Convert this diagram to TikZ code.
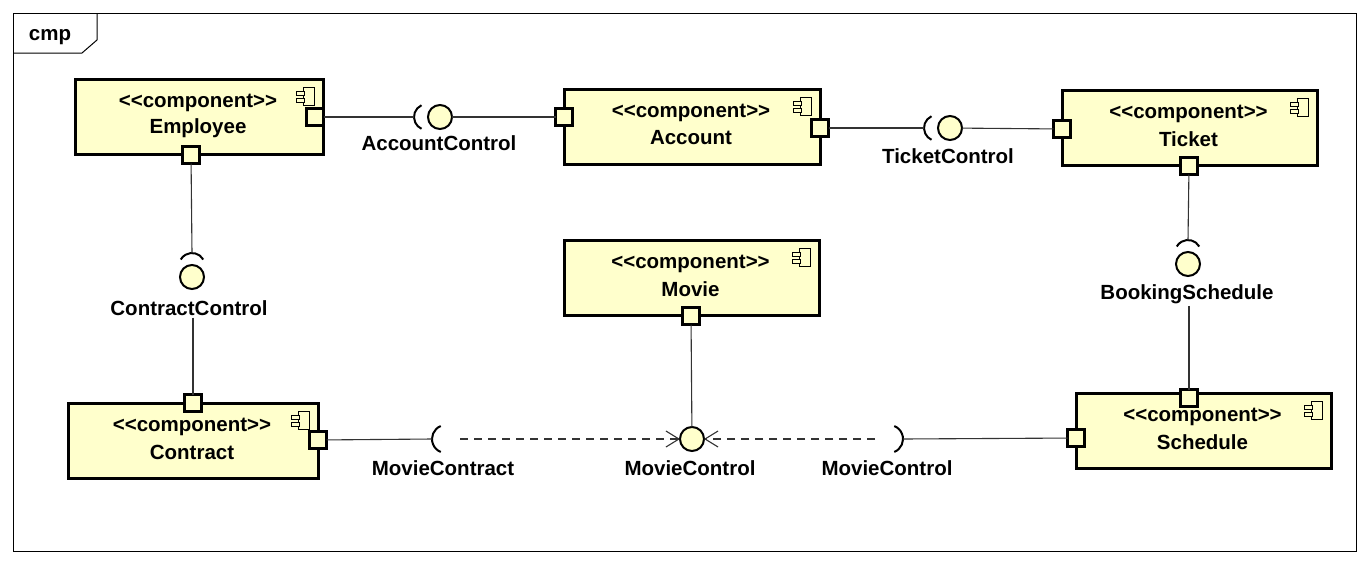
\documentclass[tikz,border=0pt]{standalone}
\usepackage{fontspec}
\setmainfont{Liberation Sans}[Ligatures=TeXOff]
\usetikzlibrary{arrows.meta}
\definecolor{compfill}{HTML}{FFFFCC}
\definecolor{linegray}{HTML}{333333}
\tikzset{
  compbox/.style={draw=black, line width=3pt, fill=compfill, inner sep=0pt, outer sep=0pt, anchor=north west},
  txt/.style={font=\fontsize{20.5}{24}\selectfont\bfseries, inner sep=2pt, text=black},
  port/.style={draw=black, line width=2.8pt, fill=compfill, minimum size=17pt, inner sep=0pt, outer sep=0pt},
  ball/.style={circle, draw=black, line width=2pt, fill=compfill, minimum size=24pt, inner sep=0pt, outer sep=0pt},
  socket/.style={draw=black, line width=2pt},
  conn/.style={draw=linegray, line width=1.1pt},
  depend/.style={conn, dash pattern=on 8pt off 6pt, -{Straight Barb[length=13pt,width=16pt]}},
  icon/.style={draw=black, line width=1pt, fill=compfill},
  framebox/.style={draw=black, line width=1pt, inner sep=0pt, outer sep=0pt, anchor=north west},
}
\newcommand{\compo}[6]{%
  \node[compbox, minimum width={(#4-#2)*1pt}, minimum height={(#5-#3)*1pt}] (#1) at (#2,#3) {};
  \path (#1.north) ++(-1,24) node[txt] (#1-st) {<<component>>};
  \path (#1.north) ++(-1,49) node[txt] (#1-nm) {#6};
  \draw[icon] (#1.north east) ++(-20,8) rectangle ++(11,18);
  \draw[icon] (#1.north east) ++(-27,12) rectangle ++(8,4.5);
  \draw[icon] (#1.north east) ++(-27,19) rectangle ++(8,4.5);
}
\begin{document}
\begin{tikzpicture}[x=1pt, y=-1pt]
\useasboundingbox (0,0) rectangle (1370,565);
\fill[white] (0,0) rectangle (1370,565);

% frame
\node[framebox, minimum width=1343pt, minimum height=538pt] (frm) at (13,13) {};
\draw[line width=1pt] (13,53) -- (82,53) -- (97,40) -- (97,13);
\node[txt] (frmname) at (50,37) {cmp};

% components
\compo{emp}{75}{79}{323}{154}{Employee}
\compo{acc}{564}{89}{820}{164}{Account}
\compo{tic}{1062}{90}{1317}{165}{Ticket}
\compo{mov}{564}{240}{819}{315}{Movie}
\compo{con}{68}{403}{318}{478}{Contract}
\compo{sch}{1076}{393}{1331}{468}{Schedule}

% ports
\node[port] (empR) at (315,117) {};
\node[port] (empB) at (191,155) {};
\node[port] (accL) at (564,117) {};
\node[port] (accR) at (820,128) {};
\node[port] (ticL) at (1062,129) {};
\node[port] (ticB) at (1189,166) {};
\node[port] (movB) at (691,316) {};
\node[port] (conT) at (193,403) {};
\node[port] (conR) at (318,440) {};
\node[port] (schT) at (1189,398) {};
\node[port] (schL) at (1076,438) {};

% AccountControl
\node[ball] (acB) at (440,117) {};
\coordinate (acS) at (427,117);
\draw[socket] ([shift={(115:13pt)}]acS) arc[start angle=115, end angle=245, radius=13pt];
\coordinate (acSL) at ([shift={(180:13pt)}]acS);
\node[txt] (acL) at (439,143) {AccountControl};

% TicketControl
\node[ball] (tcB) at (950,128) {};
\coordinate (tcS) at (937,128);
\draw[socket] ([shift={(115:13pt)}]tcS) arc[start angle=115, end angle=245, radius=13pt];
\coordinate (tcSL) at ([shift={(180:13pt)}]tcS);
\node[txt] (tcL) at (948,156) {TicketControl};

% ContractControl
\node[ball] (ccB) at (192,277) {};
\coordinate (ccS) at (192,266);
\draw[socket] ([shift={(30:13pt)}]ccS) arc[start angle=30, end angle=150, radius=13pt];
\coordinate (ccST) at ([shift={(90:13pt)}]ccS);
\node[txt] (ccL) at (189,308) {ContractControl};

% BookingSchedule
\node[ball] (bsB) at (1188,264) {};
\coordinate (bsS) at (1188,253);
\draw[socket] ([shift={(30:13pt)}]bsS) arc[start angle=30, end angle=150, radius=13pt];
\coordinate (bsST) at ([shift={(90:13pt)}]bsS);
\node[txt] (bsL) at (1187,294) {BookingSchedule};

% MovieControl (provided)
\node[ball] (mcB) at (692,439) {};
\node[txt] (mcL) at (690,468) {MovieControl};

% MovieContract socket
\coordinate (mtS) at (446,439);
\draw[socket] ([shift={(112:14pt)}]mtS) arc[start angle=112, end angle=248, radius=14pt];
\coordinate (mtSL) at ([shift={(180:14pt)}]mtS);
\coordinate (mtStart) at (460,439);
\node[txt] (mtL) at (443,468) {MovieContract};

% MovieControl socket (Schedule)
\coordinate (rS) at (889,439);
\draw[socket] ([shift={(-68:14pt)}]rS) arc[start angle=-68, end angle=68, radius=14pt];
\coordinate (rSR) at ([shift={(0:14pt)}]rS);
\coordinate (rStart) at (875,439);
\node[txt] (rL) at (887,468) {MovieControl};

% connectors
\draw[conn] (empR) -- (acSL);
\draw[conn] (acB) -- (accL);
\draw[conn] (accR) -- (tcSL);
\draw[conn] (tcB) -- (ticL);
\draw[conn] (empB) -- (ccST);
\draw[conn] (conT |- ccL.south) -- (conT);
\draw[conn] (ticB) -- (bsST);
\draw[conn] (schT |- bsL.south) -- (schT);
\draw[conn] (movB) -- (mcB);
\draw[conn] (conR) -- (mtSL);
\draw[depend] (mtStart) -- (mcB);
\draw[conn] (schL) -- (rSR);
\draw[depend] (rStart) -- (mcB);
\end{tikzpicture}
\end{document}
